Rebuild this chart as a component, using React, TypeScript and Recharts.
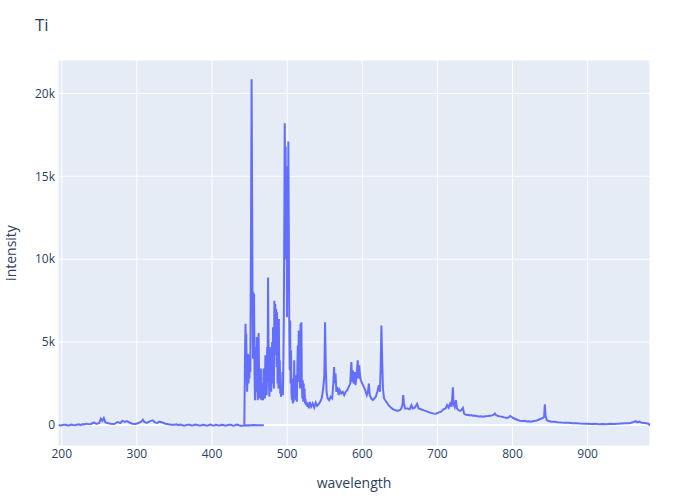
import React from "react";
import {
	LineChart,
	Line,
	CartesianGrid,
	XAxis,
	YAxis,
	ReferenceLine
} from "recharts";

// first spectrometer (UV range), nearly flat
const lowWavelength = [
	196, 198, 200, 203, 205, 208, 210, 213, 215, 218, 220, 223, 225, 228, 230,
	233, 235, 238, 240, 243, 246, 250, 252, 254, 256, 258, 261, 265, 270, 274,
	278, 281, 284, 287, 290, 294, 298, 302, 306, 308, 310, 313, 317, 321, 324,
	327, 330, 334, 338, 342, 346, 350, 353, 355, 358, 360, 363, 365, 368, 370,
	373, 375, 378, 380, 383, 385, 388, 390, 393, 395, 398, 400, 403, 405, 408,
	410, 413, 415, 418, 420, 423, 425, 428, 430, 433, 435, 438, 440, 445, 450,
	455, 460, 465, 469
];
const lowIntensity = [
	10, -30, -20, 20, 15, -25, -10, 25, 5, -20, 20, 40, -5, 50, 30,
	80, 60, 40, 90, 150, 60, 120, 380, 250, 420, 160, 120, 80, 60, 180,
	120, 260, 180, 230, 150, 80, 60, 120, 200, 320, 180, 120, 220, 280, 160,
	120, 200, 150, 80, 40, 20, 10, 40, -10, 30, 0, -40, -20, 20, 10,
	-30, -10, 25, 5, -35, -30, 15, 0, -40, -20, 20, -10, -35, 10, -20,
	-30, 15, 0, -45, -20, 10, 10, -40, -30, 20, 0, -50, -40, -10, -30,
	0, -20, -10, -20
];

// second spectrometer (visible / NIR range)
const highWavelength = [
	443, 443.5, 444, 444.6, 445, 445.6, 446.2, 446.8, 447.4, 448, 448.6, 449.2,
	449.8, 450.4, 451, 451.6, 452.2, 452.7, 453.2, 453.6, 454, 454.5, 455, 455.5,
	456, 456.6, 457.2, 457.8, 458.4, 459, 459.6, 460.2, 460.8, 461.4, 462, 462.6,
	463.2, 463.8, 464.4, 465, 465.6, 466.2, 466.8, 467.4, 468, 468.6, 469.2,
	469.8, 470.4, 471, 471.6, 472.2, 472.8, 473.4, 474, 474.6, 475.2, 475.8,
	476.4, 477, 477.6, 478.2, 478.8, 479.4, 480, 480.6, 481.2, 481.8, 482.4, 483,
	483.6, 484.2, 484.8, 485.4, 486, 486.6, 487.2, 487.8, 488.4, 489, 489.6,
	490.2, 490.8, 491.4, 492, 492.6, 493.2, 493.8, 494.4, 495, 495.6, 496.2,
	496.8, 497.4, 498, 498.6, 499.2, 499.8, 500.4, 501, 501.6, 502.2, 502.8,
	503.4, 504, 504.6, 505.2, 505.8, 506.4, 507, 507.6, 508.2, 508.8, 509.4, 510,
	510.6, 511.2, 511.8, 512.4, 513, 513.6, 514.2, 514.8, 515.4, 516, 516.6,
	517.2, 517.8, 518.4, 519, 519.6, 520.2, 520.8, 521.4, 522, 522.6, 523.2,
	523.8, 524.4, 525, 526, 527, 528, 529, 530, 532, 534, 536, 538, 540, 542,
	544, 546, 548, 549.5, 550.5, 551.5, 552.5, 554, 556, 558, 560, 561.5, 562.5,
	563.5, 564.5, 565.5, 567, 568.5, 570, 572, 574, 576, 578, 580, 582, 584,
	585.5, 586.5, 587.5, 588.5, 590, 591, 592.5, 594, 595, 596, 597, 598, 600,
	602, 604, 606, 607.5, 608.8, 610, 612, 614, 616, 618, 620, 622, 623.5, 624.5,
	625.5, 626.5, 627.5, 629, 632, 635, 638, 641, 644, 647, 650, 652, 653.5,
	654.5, 655.5, 657, 660, 663, 665.5, 667, 670, 673, 675, 678, 682, 686, 690,
	694, 698, 702, 705, 708, 711, 713, 715, 717, 719, 720.6, 721.5, 723, 724.6,
	726, 728, 730, 732, 734, 735.5, 737, 739, 741, 743, 745, 747, 749, 752, 755,
	758, 761, 764, 767, 770, 773, 775, 776.5, 778, 780, 783, 786, 789, 792, 795,
	797, 799, 801, 804, 807, 810, 813, 816, 819, 822, 825, 828, 831, 834, 837,
	840, 842, 843, 844, 845.5, 848, 852, 856, 860, 865, 870, 875, 880, 885, 890,
	895, 900, 905, 910, 915, 920, 925, 930, 935, 940, 945, 950, 955, 958, 961,
	964, 966, 969, 972, 975, 978, 981, 983
];
const highIntensity = [
	0, 2200, 4500, 6100, 4800, 5500, 2900, 2000, 3500, 4300, 2500, 3700,
	2800, 4200, 3200, 9000, 15000, 20850, 16000, 11900, 7000, 4000, 8000, 5200,
	7900, 3000, 1500, 2800, 4700, 2000, 5300, 3500, 1500, 2800, 5550, 3200,
	1600, 2600, 1800, 3400, 1500, 2500, 1600, 2100, 1500, 3400, 1700,
	2400, 1600, 4200, 2000, 3300, 1800, 4700, 2600, 8900, 5000, 2500,
	1700, 4700, 2600, 4300, 2000, 3500, 5000, 2500, 5900, 3200, 2200, 7500,
	5000, 7300, 4200, 7000, 3500, 6800, 2500, 5500, 2200, 6400, 2500,
	3900, 1900, 2100, 1700, 2300, 1900, 3200, 1800, 4000, 6500, 12000,
	18200, 14000, 16800, 10000, 15600, 6500, 15000, 8000, 17100, 12000, 6300,
	3300, 6300, 2500, 4500, 1900, 1500, 2800, 1300, 2000, 1400, 3900, 2200,
	1600, 3000, 1500, 2200, 1400, 3500, 4800, 2600, 5700, 3000, 4200,
	2200, 6100, 3400, 6200, 2500, 1600, 2700, 1400, 2500, 1500, 2200,
	1300, 1600, 1200, 1400, 1100, 1300, 1000, 1400, 1100, 1300, 1050, 1350, 1150, 1250,
	1400, 1600, 2200, 3000, 6200, 3400, 2000, 1600, 1500, 1700, 1600, 2500, 3500,
	2500, 3100, 2000, 2300, 1800, 2100, 1900, 2000, 1800, 2000, 2100, 2300, 2500,
	3800, 2600, 3300, 2500, 3200, 2400, 3000, 3900, 2800, 3600, 3000, 2700, 2500,
	2300, 2100, 1800, 2000, 2500, 1800, 1600, 1500, 1600, 1700, 2000, 2400, 2000, 3500,
	6000, 4000, 2200, 1600, 1400, 1200, 1050, 950, 900, 850, 900, 1000, 1200,
	1800, 1300, 1000, 1000, 950, 1200, 1000, 1050, 1270, 1000, 950, 880, 820, 750,
	700, 680, 760, 800, 950, 1000, 1200, 1050, 1300, 1100, 2270, 1300, 1100, 1500,
	1000, 900, 850, 900, 1030, 700, 640, 600, 620, 580, 600, 560, 570, 540, 510,
	520, 500, 530, 540, 560, 580, 620, 690, 600, 560, 520, 500, 460, 430, 460,
	540, 480, 420, 360, 300, 260, 240, 250, 210, 230, 200, 240, 260, 300, 360,
	420, 480, 1250, 560, 300, 240, 200, 190, 170, 150, 140, 130, 110, 110, 90,
	80, 80, 60, 70, 50, 60, 50, 70, 60, 80, 90, 100, 110, 140, 180,
	230, 160, 200, 130, 120, 110, 80, -40
];

const xTicks = [200, 300, 400, 500, 600, 700, 800, 900];
const yTicks = [0, 5000, 10000, 15000, 20000];

const data = [
	...lowWavelength.map((w, i) => ({ wavelength: w, intensity: lowIntensity[i] })),
	...highWavelength.map((w, i) => ({ wavelength: w, intensity: highIntensity[i] }))
];

const tickStyle = { fill: "#2a3f5f", fontSize: 12 };

const App = () => {
	return (
		<div
			style={{
				position: "absolute",
				left: 0,
				top: 0,
				width: 700,
				height: 500,
				background: "#fff",
				fontFamily: "'Open Sans', sans-serif"
			}}
		>
			<div
				style={{
					position: "absolute",
					left: 35,
					top: 13,
					fontSize: 17,
					color: "#2a3f5f"
				}}
			>
				Ti
			</div>
			<LineChart
				width={700}
				height={500}
				data={data}
				margin={{ top: 60, right: 50, bottom: 0, left: 0 }}
			>
				<CartesianGrid fill="#e5ecf6" stroke="#fff" strokeWidth={1} />
				<XAxis
					dataKey="wavelength"
					type="number"
					domain={[195, 983]}
					ticks={xTicks}
					allowDataOverflow
					height={54}
					axisLine={false}
					tickLine={false}
					tickSize={0}
					tickMargin={3}
					tick={tickStyle}
					label={{
						value: "wavelength",
						position: "insideBottom",
						offset: 12,
						style: { fill: "#2a3f5f", fontSize: 14 }
					}}
				/>
				<YAxis
					type="number"
					domain={[-1267, 22015]}
					ticks={yTicks}
					allowDataOverflow
					width={58}
					axisLine={false}
					tickLine={false}
					tickSize={0}
					tickMargin={3}
					tick={tickStyle}
					tickFormatter={(v: number) => (v === 0 ? "0" : v / 1000 + "k")}
					label={{
						value: "intensity",
						angle: -90,
						position: "insideLeft",
						offset: 11,
						style: { fill: "#2a3f5f", fontSize: 14, textAnchor: "middle" }
					}}
				/>
				<ReferenceLine y={0} stroke="#fff" strokeWidth={2} />
				<Line
					type="linear"
					dataKey="intensity"
					stroke="#636efa"
					strokeWidth={2}
					dot={false}
					isAnimationActive={false}
				/>
			</LineChart>
		</div>
	);
};

export default App;
